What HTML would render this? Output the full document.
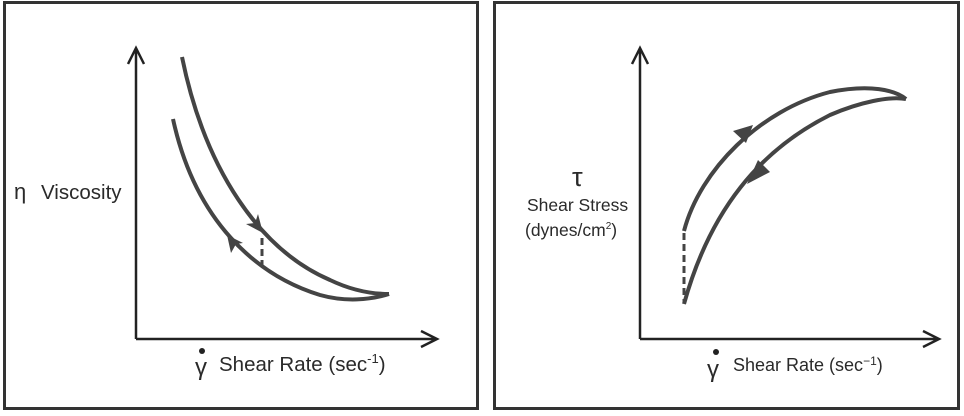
<!DOCTYPE html>
<html><head><style>
body{margin:0;background:#fff;width:964px;height:411px;overflow:hidden}
svg text{font-family:"Liberation Sans",sans-serif;fill:#2a2a2a}
</style></head><body>
<svg width="964" height="411" viewBox="0 0 964 411">
<rect x="4.5" y="2.5" width="473" height="406" fill="none" stroke="#333" stroke-width="3"/>
<rect x="494.5" y="2.5" width="464" height="406" fill="none" stroke="#333" stroke-width="3"/>
<g stroke="#222" stroke-width="2.5" fill="none">
<path d="M136 339V49M128 64L136 48L144 64"/>
<path d="M136 339H436M421 331L437 339L421 347"/>
<path d="M640 339V49M632 64L640 48L648 64"/>
<path d="M640 339H938M923 331L939 339L923 347"/>
</g>
<g stroke="#444" stroke-width="4" fill="none">
<path d="M182 57C205 170 260 250 330 280C355 292 375 294 389 294"/>
<path d="M173 119C195 220 255 275 320 295C345 302 370 300 389 294"/>
<path d="M684 231C700 170 760 110 830 92C870 84 895 90 906 99"/>
<path d="M684 304C710 210 760 150 830 115C860 102 890 96 906 99"/>
</g>
<g stroke="#444" stroke-width="3" stroke-dasharray="7,4">
<path d="M262 238V268"/>
<path d="M684 233V302"/>
</g>
<g fill="#444">
<path d="M263 233L258 214L255 223L246 224Z"/>
<path d="M227 235L243 243L236 244L231 253Z"/>
<path d="M753 125L746 143L733 131Z"/>
<path d="M747 184L758 160L770 172Z"/>
</g>
<text x="14" y="199" font-size="22">η</text>
<text x="41" y="199" font-size="20.5">Viscosity</text>
<text x="195" y="375" font-size="24">γ</text>
<circle cx="202" cy="351" r="3" fill="#222"/>
<text x="219" y="371" font-size="20.5">Shear Rate (sec<tspan font-size="13" dy="-8">-1</tspan><tspan dy="8">)</tspan></text>
<text x="572" y="186" font-size="27">τ</text>
<text x="527" y="211" font-size="17.5">Shear Stress</text>
<text x="525" y="236" font-size="17.5">(dynes/cm<tspan font-size="10" dy="-7">2</tspan><tspan dy="7">)</tspan></text>
<text x="707" y="377" font-size="24">γ</text>
<circle cx="716" cy="352" r="3" fill="#222"/>
<text x="733" y="371" font-size="18">Shear Rate (sec<tspan font-size="12" dy="-6">−1</tspan><tspan dy="6">)</tspan></text>
</svg>
</body></html>
